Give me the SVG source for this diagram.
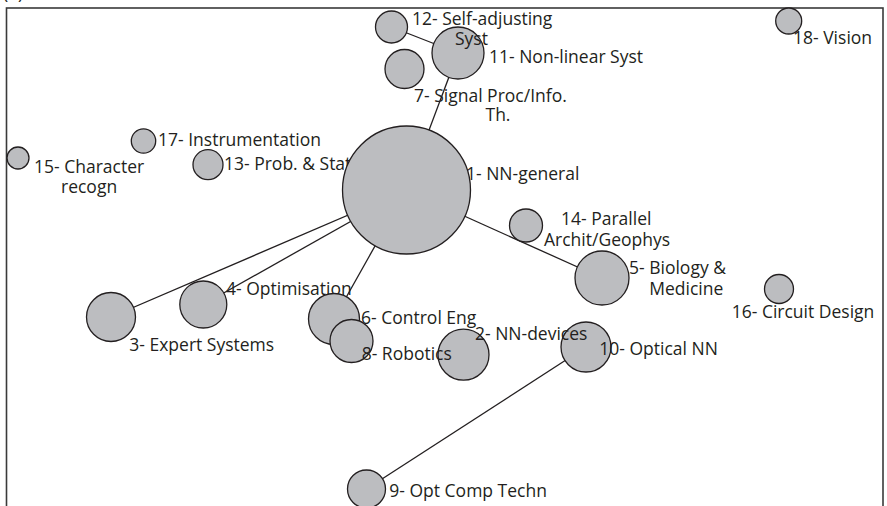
<svg xmlns="http://www.w3.org/2000/svg" width="887" height="506" viewBox="0 0 887 506">
<style>
.n{fill:#bcbdc0;stroke:#231f20;stroke-width:1.3}
.t{font-family:"Open Sans","Noto Sans",sans-serif;font-size:17.5px;fill:#231f20}
.e{stroke:#231f20;stroke-width:1.3;fill:none}
</style>
<rect width="887" height="506" fill="#fff"/>
<text class="t" x="3" y="-1">(a)</text>
<rect x="6.5" y="8" width="876.5" height="520" fill="none" stroke="#3a3a3a" stroke-width="1.6"/>
<g id="connectors">
<line class="e" x1="391.5" y1="27" x2="458" y2="53"/>
<line class="e" x1="406.5" y1="190" x2="458" y2="53"/>
<line class="e" x1="406.5" y1="190" x2="111" y2="317"/>
<line class="e" x1="406.5" y1="190" x2="203.3" y2="304.5"/>
<line class="e" x1="406.5" y1="190" x2="334" y2="319"/>
<line class="e" x1="406.5" y1="190" x2="602" y2="278"/>
<line class="e" x1="586" y1="347" x2="366.5" y2="489"/>
</g>
<g id="node13"><circle class="n" cx="208" cy="164.7" r="15"/><text class="t" x="224" y="169.5">13- Prob. &amp; Stat</text></g>
<g id="node1"><circle class="n" cx="406.5" cy="190" r="64"/><text class="t" x="466" y="180">1- NN-general</text></g>
<g id="node11"><circle class="n" cx="458" cy="53" r="26"/><text class="t" x="489" y="63.3">11- Non-linear Syst</text></g>
<g id="node12"><circle class="n" cx="391.5" cy="27" r="16"/><text class="t" x="412" y="25">12- Self-adjusting</text><text class="t" x="455" y="45">Syst</text></g>
<g id="node7"><circle class="n" cx="404.5" cy="69" r="19.5"/><text class="t" x="414" y="101.5">7- Signal Proc/Info.</text><text class="t" x="485.5" y="120.7">Th.</text></g>
<g id="node17"><circle class="n" cx="143.5" cy="141" r="12.2"/><text class="t" x="158" y="145.7">17- Instrumentation</text></g>
<g id="node15"><circle class="n" cx="18" cy="158" r="11"/><text class="t" x="34" y="172.7">15- Character</text><text class="t" x="61" y="192.5">recogn</text></g>
<g id="node18"><circle class="n" cx="788.7" cy="21" r="13"/><text class="t" x="793" y="44.3">18- Vision</text></g>
<g id="node14"><circle class="n" cx="526" cy="225.5" r="16.5"/><text class="t" x="561" y="225">14- Parallel</text><text class="t" x="544" y="245.7">Archit/Geophys</text></g>
<g id="node5"><circle class="n" cx="602" cy="278" r="27"/><text class="t" x="629" y="274">5- Biology &amp;</text><text class="t" x="649.3" y="295">Medicine</text></g>
<g id="node16"><circle class="n" cx="779" cy="289" r="14.5"/><text class="t" x="731.7" y="318.3">16- Circuit Design</text></g>
<g id="node3"><circle class="n" cx="111" cy="317" r="24.5"/><text class="t" x="129.3" y="350.5">3- Expert Systems</text></g>
<g id="node4"><circle class="n" cx="203.3" cy="304.5" r="23.5"/><text class="t" x="226" y="295">4- Optimisation</text></g>
<g id="node6"><circle class="n" cx="334" cy="319" r="25.5"/><text class="t" x="361" y="324.3">6- Control Eng</text></g>
<g id="node10"><circle class="n" cx="586" cy="347" r="25"/><text class="t" x="599.3" y="355">10- Optical NN</text></g>
<g id="node2"><circle class="n" cx="463.5" cy="354.7" r="25.5"/><text class="t" x="475" y="340">2- NN-devices</text></g>
<g id="node8"><circle class="n" cx="351.5" cy="341" r="21.5"/><text class="t" x="361.7" y="360">8- Robotics</text></g>
<g id="node9"><circle class="n" cx="366.5" cy="489" r="19"/><text class="t" x="389.3" y="497.3">9- Opt Comp Techn</text></g>
</svg>
